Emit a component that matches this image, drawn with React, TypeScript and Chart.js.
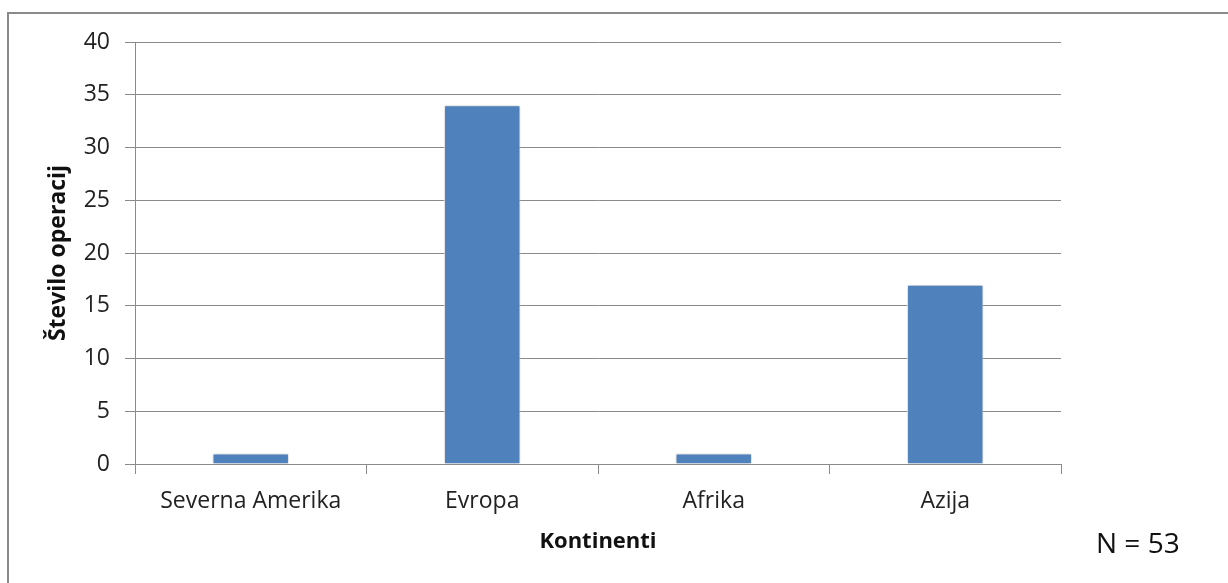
import React, { useEffect, useRef } from "react";
import { Chart, registerables } from "chart.js";

Chart.register(...registerables);

const categories = ["Severna Amerika", "Evropa", "Afrika", "Azija"];
const operations = [1, 34, 1, 17];
const yTicks = [0, 5, 10, 15, 20, 25, 30, 35, 40];
const xTitle = "Kontinenti";
const yTitle = "Število operacij";
const noteText = "N = 53";

const FONT = "'Open Sans', 'Noto Sans', sans-serif";
const GRID = "#8a8a8a";

const barShadow = {
  id: "barShadow",
  beforeDatasetsDraw(chart: any) {
    const ctx = chart.ctx;
    ctx.save();
    ctx.shadowColor = "rgba(0,0,0,0.28)";
    ctx.shadowBlur = 4;
    ctx.shadowOffsetX = 0;
    ctx.shadowOffsetY = 0;
  },
  afterDatasetsDraw(chart: any) {
    chart.ctx.restore();
  },
};

export default function App() {
  const ref = useRef<HTMLCanvasElement | null>(null);

  useEffect(() => {
    if (!ref.current) return;
    const chart = new Chart(ref.current, {
      type: "bar",
      data: {
        labels: categories,
        datasets: [
          {
            data: operations,
            backgroundColor: "#4F81BD",
            borderColor: "rgba(255,255,255,0.85)",
            borderWidth: 1,
            barPercentage: 0.33,
            categoryPercentage: 1,
          },
        ],
      },
      options: {
        animation: false,
        responsive: false,
        maintainAspectRatio: false,
        layout: { padding: { left: 45, top: 42, right: 167, bottom: 0 } },
        plugins: {
          legend: { display: false },
          tooltip: { enabled: false },
        },
        scales: {
          x: {
            afterFit: (s: any) => {
              s.height = 119;
            },
            grid: {
              offset: true,
              drawOnChartArea: false,
              drawTicks: true,
              tickLength: 10,
              color: GRID,
              lineWidth: 1,
            },
            border: { color: GRID, width: 1 },
            ticks: {
              color: "#222",
              font: { family: FONT, size: 23 },
              padding: 14,
              maxRotation: 0,
            },
            title: {
              display: true,
              text: xTitle,
              color: "#111",
              font: { family: FONT, size: 22, weight: "bold" },
              padding: { top: 0, bottom: 28 },
            },
          },
          y: {
            min: 0,
            max: 40,
            afterFit: (s: any) => {
              s.width = 90;
            },
            afterBuildTicks: (s: any) => {
              s.ticks = yTicks.map((v) => ({ value: v }));
            },
            grid: {
              color: GRID,
              lineWidth: 1,
              tickLength: 10,
            },
            border: { color: GRID, width: 1 },
            ticks: {
              color: "#222",
              font: { family: FONT, size: 23 },
              padding: 15,
            },
            title: {
              display: true,
              text: yTitle,
              color: "#111",
              font: { family: FONT, size: 23, weight: "bold" },
              padding: { top: 0, bottom: 0 },
            },
          },
        },
      },
      plugins: [barShadow],
    });
    return () => chart.destroy();
  }, []);

  return (
    <div
      style={{
        position: "fixed",
        left: 0,
        top: 0,
        width: 1228,
        height: 583,
        overflow: "hidden",
        background: "#fff",
      }}
    >
      <div
        style={{
          position: "absolute",
          left: 7,
          top: 12,
          width: 1300,
          height: 700,
          border: "2px solid #8a8a8a",
          boxSizing: "border-box",
        }}
      />
      <canvas
        ref={ref}
        width={1228}
        height={583}
        style={{ position: "absolute", left: 0, top: 0, width: 1228, height: 583 }}
      />
      <div
        style={{
          position: "absolute",
          left: 1096,
          top: 524,
          fontFamily: FONT,
          fontSize: 28,
          color: "#111",
          lineHeight: "36px",
          whiteSpace: "nowrap",
        }}
      >
        {noteText}
      </div>
    </div>
  );
}
